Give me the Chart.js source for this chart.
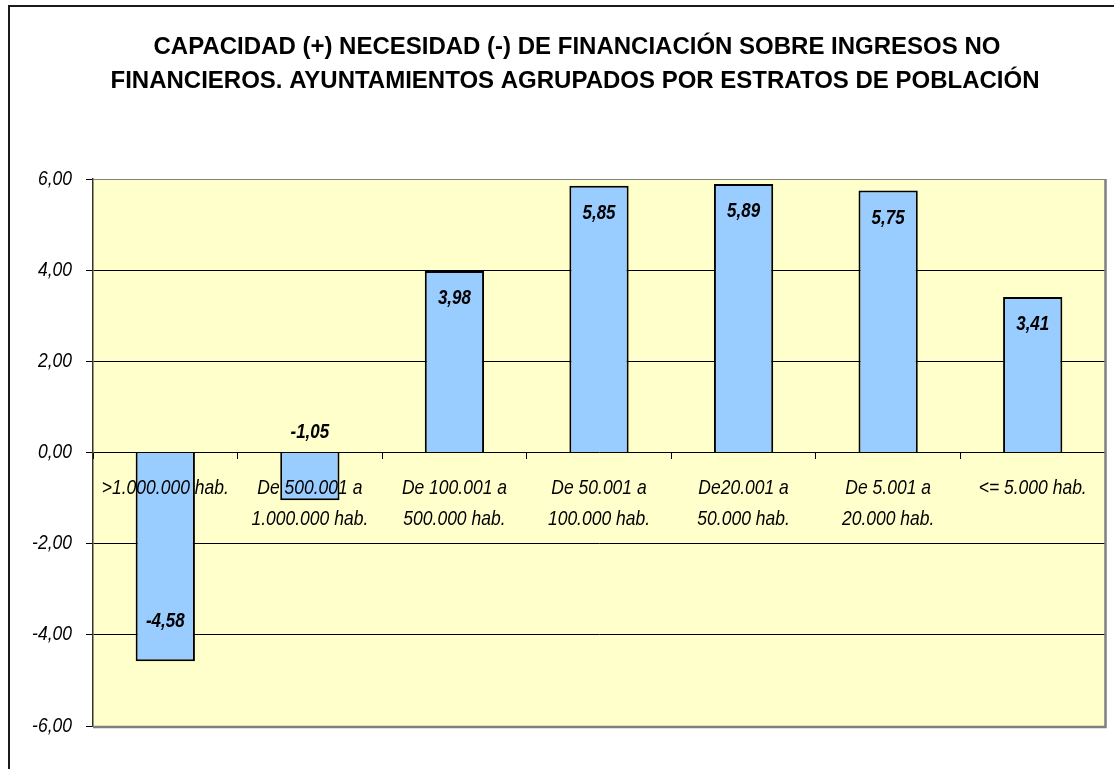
<!DOCTYPE html>
<html>
<head>
<meta charset="utf-8">
<script src="https://cdn.jsdelivr.net/npm/chart.js@4.4.1/dist/chart.umd.min.js"></script>
<style>
  html, body { margin: 0; padding: 0; background: #ffffff; overflow: hidden; }
  #wrap { position: absolute; left: 0; top: 0; width: 1114px; height: 769px; }
</style>
</head>
<body>
<div id="wrap"><canvas id="chart" width="1114" height="769"></canvas></div>
<script>
// Population strata (two-line category labels)
const categories = [
  ['>1.000.000 hab.'],
  ['De 500.001 a', '1.000.000 hab.'],
  ['De 100.001 a', '500.000 hab.'],
  ['De 50.001 a', '100.000 hab.'],
  ['De20.001 a', '50.000 hab.'],
  ['De 5.001 a', '20.000 hab.'],
  ['<= 5.000 hab.']
];

// Financing capacity (+) / need (-) over non-financial revenue, %
const values = [-4.58, -1.05, 3.98, 5.85, 5.89, 5.75, 3.41];

const titleLines = [
  'CAPACIDAD (+) NECESIDAD (-) DE FINANCIACIÓN SOBRE INGRESOS NO',
  'FINANCIEROS. AYUNTAMIENTOS AGRUPADOS POR ESTRATOS DE POBLACIÓN'
];

const yMin = -6, yMax = 6, yStep = 2;

const FONT = '"Liberation Sans", Arial, sans-serif';
const fmt = v => v.toFixed(2).replace('.', ',');

// Axis and value text uses a slightly taller (condensed-looking) face:
// stretch glyphs vertically around their anchor point.
const canvas = document.getElementById('chart');
const ctx2d = canvas.getContext('2d');
const plainFillText = ctx2d.fillText.bind(ctx2d);
const TEXT_STRETCH = 1.15;
ctx2d.fillText = function (text, x, y, maxWidth) {
  this.save();
  this.translate(x, y);
  this.scale(1, TEXT_STRETCH);
  if (maxWidth === undefined) plainFillText(text, 0, 0);
  else plainFillText(text, 0, 0, maxWidth);
  this.restore();
};

// Outer frame, title, plot background and plot border
const framePlugin = {
  id: 'frame',
  beforeDraw(chart) {
    const { ctx, chartArea: a } = chart;
    ctx.save();
    ctx.strokeStyle = '#1a1a1a';
    ctx.lineWidth = 2;
    ctx.strokeRect(9, 6, 2000, 2000);
    ctx.fillStyle = '#FFFFCC';
    ctx.fillRect(a.left, a.top, a.right - a.left, a.bottom - a.top);

    ctx.fillStyle = '#000';
    ctx.font = 'bold 24px ' + FONT;
    ctx.textAlign = 'center';
    ctx.textBaseline = 'middle';
    plainFillText(titleLines[0], 577, 47);
    plainFillText(titleLines[1], 575, 81);
    ctx.restore();
  },
  afterDraw(chart) {
    const { ctx, chartArea: a } = chart;
    ctx.save();
    ctx.strokeStyle = '#808080';
    ctx.lineWidth = 1;
    ctx.beginPath();
    ctx.moveTo(a.left, a.top + 0.5);
    ctx.lineTo(a.right, a.top + 0.5);
    ctx.stroke();
    ctx.lineWidth = 2.5;
    ctx.beginPath();
    ctx.moveTo(a.right + 0.5, a.top);
    ctx.lineTo(a.right + 0.5, a.bottom + 1);
    ctx.lineTo(a.left, a.bottom + 1);
    ctx.stroke();
    ctx.restore();
  }
};

// Value labels on the bars
const valueLabels = {
  id: 'valueLabels',
  afterDatasetsDraw(chart) {
    const { ctx } = chart;
    const meta = chart.getDatasetMeta(0);
    ctx.save();
    ctx.font = 'italic bold 17px ' + FONT;
    ctx.fillStyle = '#000';
    ctx.textAlign = 'center';
    ctx.textBaseline = 'middle';
    meta.data.forEach((bar, i) => {
      const v = values[i];
      let y;
      if (v >= 0) {
        y = bar.y + 28;
      } else if (Math.abs(bar.y - bar.base) > 80) {
        y = bar.y - 40;
      } else {
        y = bar.base - 20;
      }
      ctx.fillText(fmt(v), bar.x, y);
    });
    ctx.restore();
  }
};

new Chart(canvas, {
  type: 'bar',
  data: {
    labels: categories,
    datasets: [{
      data: values,
      backgroundColor: '#99CCFF',
      borderColor: '#000000',
      borderWidth: 2,
      categoryPercentage: 1,
      barPercentage: 0.41
    }]
  },
  options: {
    responsive: false,
    animation: false,
    layout: { padding: { left: 0, right: 9, top: 179, bottom: 43 } },
    plugins: {
      legend: { display: false },
      tooltip: { enabled: false },
      title: { display: false }
    },
    scales: {
      x: {
        position: { y: 0 },
        grid: {
          display: true,
          drawOnChartArea: false,
          drawTicks: true,
          tickLength: 6,
          tickColor: '#000',
          offset: true,
          z: 1
        },
        border: { display: false },
        ticks: {
          z: 1,
          color: '#000',
          padding: 14,
          maxRotation: 0,
          autoSkip: false,
          font: { family: FONT, size: 17.5, style: 'italic', lineHeight: 1.77 }
        }
      },
      y: {
        min: yMin,
        max: yMax,
        afterFit(scale) { scale.width = 93; },
        grid: {
          color: c => (c.tick && Math.abs(c.tick.value) === yMax) ? 'rgba(0,0,0,0)' : '#000',
          lineWidth: 1,
          tickLength: 7,
          tickColor: '#000'
        },
        border: { display: true, color: '#333', width: 1.5 },
        ticks: {
          stepSize: yStep,
          padding: 14,
          color: '#000',
          font: { family: FONT, size: 17.5, style: 'italic' },
          callback: v => fmt(v)
        }
      }
    }
  },
  plugins: [framePlugin, valueLabels]
});
</script>
</body>
</html>
